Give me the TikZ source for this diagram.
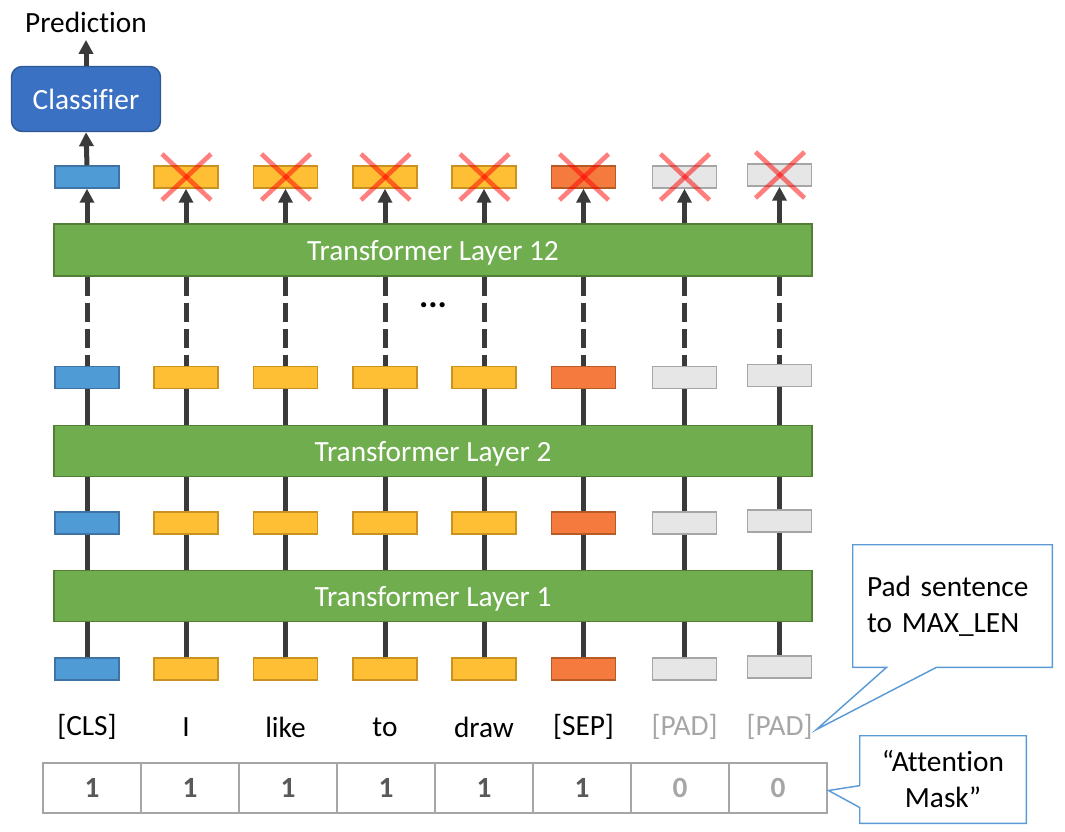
\documentclass[tikz,border=0pt]{standalone}
\usepackage{fontspec}
\setmainfont{Carlito}[Ligatures=NoCommon]
\usetikzlibrary{arrows.meta,calc,positioning}

\definecolor{clsfill}{HTML}{4E9BD5}
\definecolor{clsedge}{HTML}{3E73A3}
\definecolor{wordfill}{HTML}{FFBF35}
\definecolor{wordedge}{HTML}{C99221}
\definecolor{sepfill}{HTML}{F47B3D}
\definecolor{sepedge}{HTML}{B65A26}
\definecolor{padfill}{HTML}{E6E6E6}
\definecolor{padedge}{HTML}{A6A6A6}
\definecolor{layerfill}{HTML}{70AD4F}
\definecolor{layeredge}{HTML}{537E36}
\definecolor{headfill}{HTML}{3B71C2}
\definecolor{headedge}{HTML}{2E5896}
\definecolor{linkgray}{HTML}{3A3A3A}
\definecolor{notecol}{HTML}{5B9BD5}
\definecolor{onegray}{HTML}{595959}

\newcommand\figfont{\fontsize{22}{27}\selectfont}

\begin{document}
\begin{tikzpicture}
    [x=0.75pt, y=-0.75pt, font=\figfont,
    vec/.style={draw, line width=1.1pt, minimum width=48pt, minimum height=16.5pt, inner sep=0pt},
    clsvec/.style={vec, fill=clsfill, draw=clsedge},
    wordvec/.style={vec, fill=wordfill, draw=wordedge},
    sepvec/.style={vec, fill=sepfill, draw=sepedge},
    padvec/.style={vec, fill=padfill, draw=padedge},
    layer/.style={draw=layeredge, fill=layerfill, line width=1.1pt, minimum width=568.5pt, minimum height=38pt, inner sep=0pt, text=white, text depth=0pt},
    link/.style={draw=linkgray, line width=3.75pt},
    up/.style={link, -{Triangle[length=10.5pt, width=10.5pt]}},
    cross/.style={draw=red, opacity=0.5, line width=3.5pt},
    cell/.style={draw=padedge, line width=1.5pt, minimum width=73.5pt, minimum height=37.5pt, inner sep=0pt, font=\figfont\bfseries},
    noteline/.style={draw=notecol, line width=1.1pt, line join=miter}]
        \useasboundingbox (0,0) rectangle (1065,832);

        \node[layer] (L1) at (433,596) {Transformer Layer 1};
        \node[layer] (L2) at (433,451) {Transformer Layer 2};
        \node[layer, minimum height=39pt] (L12) at (433,250) {Transformer Layer 12};
        \node[font=\fontsize{26}{30}\selectfont\bfseries] at (433,305) {...};

        \node[draw=headedge, fill=headfill, line width=1.1pt, rounded corners=8pt, minimum width=111.75pt, minimum height=48.75pt, text=white, text depth=0pt] (clsf) at (86,99) {Classifier};
        \node[inner sep=5.5pt] (pred) at (86,22) {Prediction};

        \foreach \i/\x/\s/\d in {1/87/clsvec/0, 2/186/wordvec/0, 3/285.5/wordvec/0, 4/385/wordvec/0, 5/484/wordvec/0, 6/583.5/sepvec/0, 7/684.5/padvec/0, 8/779.5/padvec/-2}{
            \node[\s] (e\i) at (\x,{669+\d}) {};
            \node[\s] (h\i) at (\x,{523+\d}) {};
            \node[\s] (g\i) at (\x,{377.5+\d}) {};
            \node[\s] (o\i) at (\x,{177+\d}) {};
            \draw[link] (e\i.north) -- (e\i |- L1.south);
            \draw[link] (h\i |- L1.north) -- (h\i.south);
            \draw[link] (h\i.north) -- (h\i |- L2.south);
            \draw[link] (g\i |- L2.north) -- (g\i.south);
            \draw[link, dash pattern=on 14.25pt off 5.25pt] (g\i |- L12.south) -- (g\i.north);
            \draw[up] (o\i |- L12.north) -- (o\i.south);
        }

        \draw[up] (o1.north) -- (clsf.south);
        \draw[up] (clsf.north) -- (pred.south);

        \foreach \i in {2,...,8}{
            \draw[cross] ([shift={(-24,-23)}]o\i.center) -- ([shift={(25,23)}]o\i.center);
            \draw[cross] ([shift={(-24,23)}]o\i.center) -- ([shift={(25,-23)}]o\i.center);
        }

        \foreach \i/\x/\w/\c in {1/87/{[CLS]}/black, 2/186/I/black, 3/285.5/like/black, 4/385/to/black, 5/484/draw/black, 6/583.5/{[SEP]}/black, 7/684.5/{[PAD]}/padedge, 8/779.5/{[PAD]}/padedge}{
            \node[text=\c] (tok\i) at (\x,727) {\w};
        }

        \foreach \i/\v/\c in {1/1/onegray, 2/1/onegray, 3/1/onegray, 4/1/onegray, 5/1/onegray, 6/1/onegray, 7/0/padedge, 8/0/padedge}{
            \node[cell, text=\c] (m\i) at ({92+98*(\i-1)},788) {\v};
        }

        \node[minimum width=149.25pt, minimum height=91.5pt, text width=128.25pt, inner sep=0pt, align=left] (padnote) at (952.5,606) {Pad sentence\\to MAX\_LEN};
        \coordinate (padtip) at (816.5,729.5);
        \draw[noteline] (padnote.south west) -- (padnote.north west) -- (padnote.north east) -- (padnote.south east)
            -- ($(padnote.south west)!0.42!(padnote.south east)$) -- (padtip)
            -- ($(padnote.south west)!0.17!(padnote.south east)$) -- cycle;

        \node[minimum width=124.5pt, minimum height=65.25pt, inner sep=0pt, align=center] (masknote) at (943,779.5) {“Attention\\Mask”};
        \coordinate (masktip) at (828.5,790.5);
        \draw[noteline] (masknote.north west) -- (masknote.north east) -- (masknote.south east) -- (masknote.south west)
            -- ($(masknote.north west)!0.82!(masknote.south west)$) -- (masktip)
            -- ($(masknote.north west)!0.57!(masknote.south west)$) -- cycle;
   \end{tikzpicture}
\end{document}
